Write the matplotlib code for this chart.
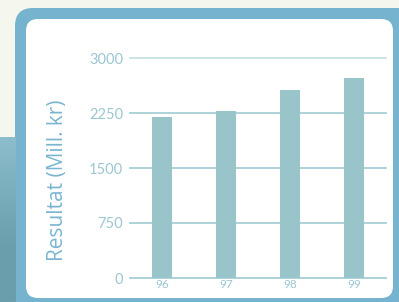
import numpy as np
import matplotlib.pyplot as plt
from matplotlib.colors import LinearSegmentedColormap
from matplotlib.patches import FancyBboxPatch

# data
years = ['96', '97', '98', '99']
resultat = [2195, 2280, 2570, 2730]
yticks = [0, 750, 1500, 2250, 3000]

W, H = 399, 302
fig = plt.figure(figsize=(W / 100, H / 100), dpi=100)
fig.patch.set_facecolor('#f5f7ee')

# gradient block bottom left
grad = np.linspace(0, 1, 100).reshape(-1, 1)
bg = fig.add_axes([0, 0, 16 / W, (H - 137) / H])
bg.imshow(grad, aspect='auto', extent=[0, 1, 0, 1],
          cmap=LinearSegmentedColormap.from_list('g', ['#8cbdcc', '#7aaebd', '#6a9ead', '#6b9fae']))
bg.axis('off')

# rounded frame and white panel
frame = FancyBboxPatch((15 / W, -20 / H), (W + 20 - 15) / W, (H - 8 + 20) / H,
                       boxstyle='round,pad=0,rounding_size=0.045',
                       transform=fig.transFigure, facecolor='#76b3ce',
                       edgecolor='none', mutation_aspect=W / H, zorder=-2)
fig.patches.append(frame)
panel = FancyBboxPatch((26 / W, (H - 298) / H), (393 - 26) / W, (298 - 19) / H,
                       boxstyle='round,pad=0,rounding_size=0.03',
                       transform=fig.transFigure, facecolor='white',
                       edgecolor='none', mutation_aspect=W / H, zorder=-1)
fig.patches.append(panel)

ax = fig.add_axes([130 / W, (H - 278) / H, 256 / W, 220 / H])
ax.set_facecolor('none')
x = np.arange(len(years))
ax.bar(x, resultat, width=0.3, color='#99c4ca', zorder=3)
ax.set_xlim(-0.5, 3.5)
ax.set_ylim(0, 3000)
ax.set_yticks(yticks)
ax.set_yticklabels([str(v) for v in yticks])
ax.set_xticks(x)
ax.set_xticklabels(years)
for v in yticks:
    ax.axhline(v, color='#c2dfe4' if v == 3000 else '#9ecbd2', lw=1.2, zorder=1, clip_on=False)
for s in ax.spines.values():
    s.set_visible(False)
ax.tick_params(axis='both', length=0, colors='#9cc6d0', labelsize=10.5)
ax.tick_params(axis='y', pad=5)
ax.tick_params(axis='x', pad=1, labelsize=8.5)
for lab in ax.get_xticklabels() + ax.get_yticklabels():
    lab.set_family('Lato')
ax.set_ylabel('Resultat (Mill. kr)', color='#7ab6d0', fontsize=15, family='Open Sans')
ax.yaxis.set_label_coords(-62 / 256, 0.445)

fig.savefig('out.png', dpi=100, facecolor=fig.get_facecolor())
